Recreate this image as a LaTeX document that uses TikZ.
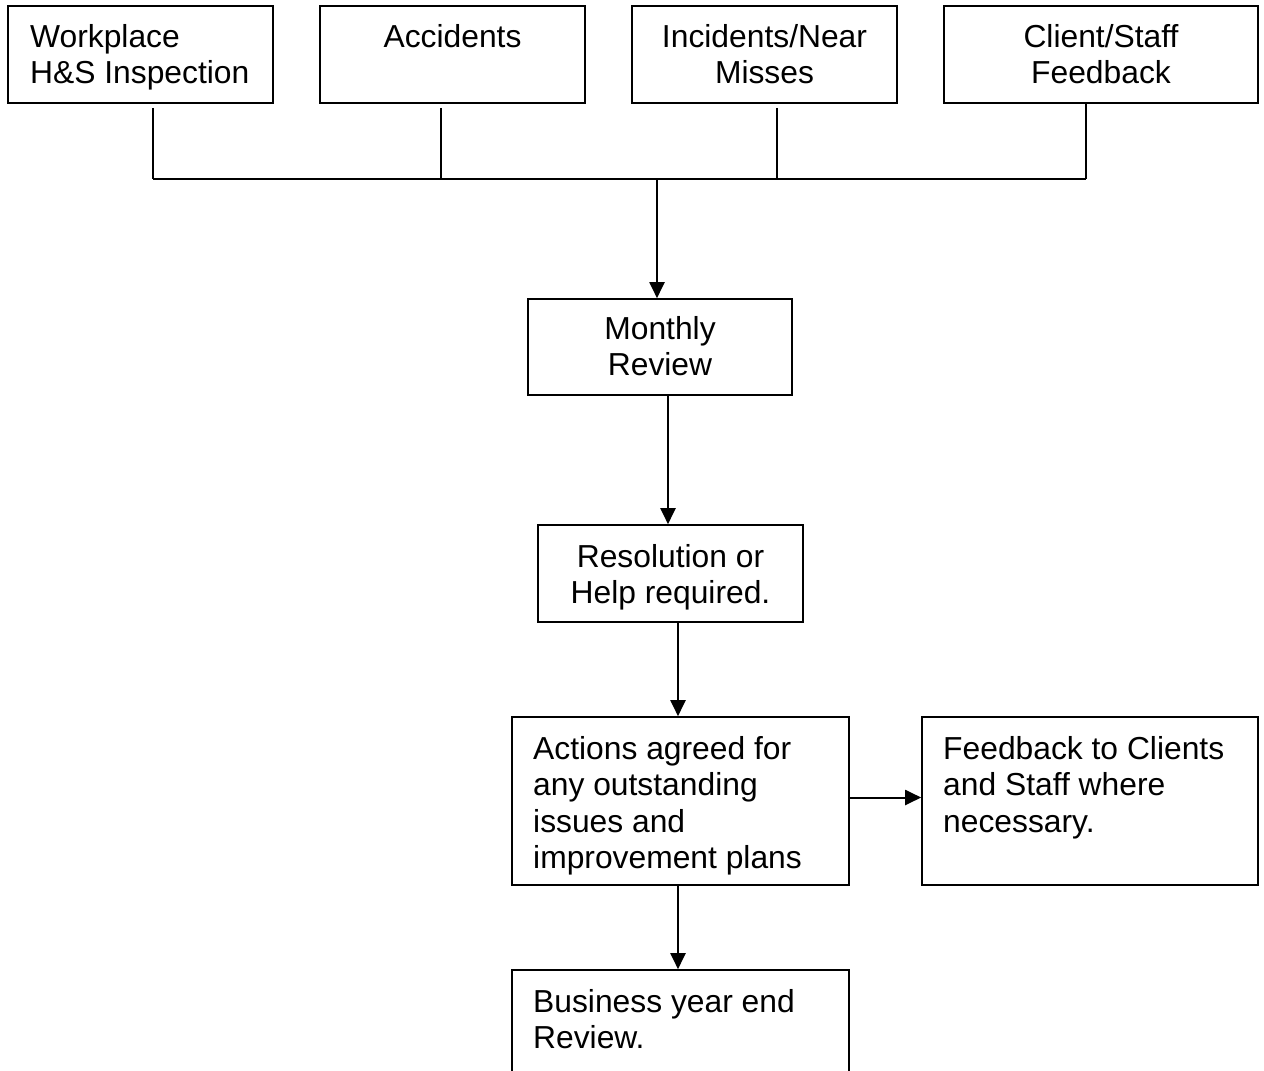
\documentclass[tikz,border=0pt]{standalone}
\usepackage{fontspec}
\setmainfont{Liberation Sans}
\usetikzlibrary{arrows.meta}
\begin{document}
\begin{tikzpicture}[x=1pt,y=-1pt,
  box/.style={draw, line width=1.6pt, inner sep=0pt, rectangle},
  txt/.style={inner sep=0pt, font=\fontsize{31.8}{36.5}\selectfont},
  arr/.style={line width=2pt, -{Triangle[length=16pt,width=15pt]}},
  vline/.style={line width=1.3pt},
  hline/.style={line width=2pt}]
\path[use as bounding box, clip] (0,0) rectangle (1264,1071);

% boxes
\node[box, minimum width=265pt, minimum height=97pt] (wi)  at (140.5,54.5) {};
\node[box, minimum width=265pt, minimum height=97pt] (acc) at (452.5,54.5) {};
\node[box, minimum width=265pt, minimum height=97pt] (inc) at (764.5,54.5) {};
\node[box, minimum width=314pt, minimum height=97pt] (csf) at (1101,54.5) {};
\node[box, minimum width=264pt, minimum height=96pt] (mon) at (660,347) {};
\node[box, minimum width=265pt, minimum height=97pt] (res) at (670.5,573.5) {};
\node[box, minimum width=337pt, minimum height=168pt] (act) at (680.5,801) {};
\node[box, minimum width=336pt, minimum height=168pt] (fb)  at (1090,801) {};
\node[box, minimum width=337pt, minimum height=130pt] (bus) at (680.5,1035) {};

% texts
\node[txt, anchor=base west] (wiT) at (30,47) {\parbox[t]{240pt}{\raggedright Workplace\\H\&S Inspection}};
\node[txt, anchor=base] (accT) at (452.5,47) {\parbox[t]{250pt}{\centering Accidents}};
\node[txt, anchor=base] (incT) at (764.5,47) {\parbox[t]{250pt}{\centering Incidents/Near\\Misses}};
\node[txt, anchor=base] (csfT) at (1101,47) {\parbox[t]{300pt}{\centering Client/Staff\\Feedback}};
\node[txt, anchor=base] (monT) at (660,339) {\parbox[t]{250pt}{\centering Monthly\\Review}};
\node[txt, anchor=base] (resT) at (670.5,567) {\parbox[t]{250pt}{\centering Resolution or\\Help required.}};
\node[txt, anchor=base west] (actT) at (533,759) {\parbox[t]{310pt}{\raggedright Actions agreed for\\any outstanding\\issues and\\improvement plans}};
\node[txt, anchor=base west] (fbT) at (943,759) {\parbox[t]{310pt}{\raggedright Feedback to Clients\\and Staff where\\necessary.}};
\node[txt, anchor=base west] (busT) at (533,1012) {\parbox[t]{310pt}{\raggedright Business year end\\Review.}};

% junction coordinates
\coordinate (busL) at (153,179);
\coordinate (accJ) at (441,179);
\coordinate (busM) at (657,179);
\coordinate (incJ) at (777,179);
\coordinate (busR) at (1086,179);

% collector lines
\draw[vline] (wi.south -| busL) ++(0,4) -- (busL);
\draw[vline] (acc.south -| accJ) ++(0,4) -- (accJ);
\draw[vline] (inc.south -| incJ) ++(0,4) -- (incJ);
\draw[vline] (csf.south -| busR) -- (busR);
\draw[hline] (busL) -- (busR);

% arrows
\draw[arr] (busM) -- (mon.north -| busM);
\draw[arr] ([xshift=8pt]mon.south) -- ([xshift=-2.5pt]res.north);
\draw[arr] ([xshift=7.5pt]res.south) -- ([xshift=-2.5pt]act.north);
\draw[arr] ([yshift=3.5pt]act.east) -- ([yshift=3.5pt]fb.west);
\draw[arr] ([xshift=-2.5pt]act.south) -- ([xshift=-2.5pt]bus.north);
\end{tikzpicture}
\end{document}
